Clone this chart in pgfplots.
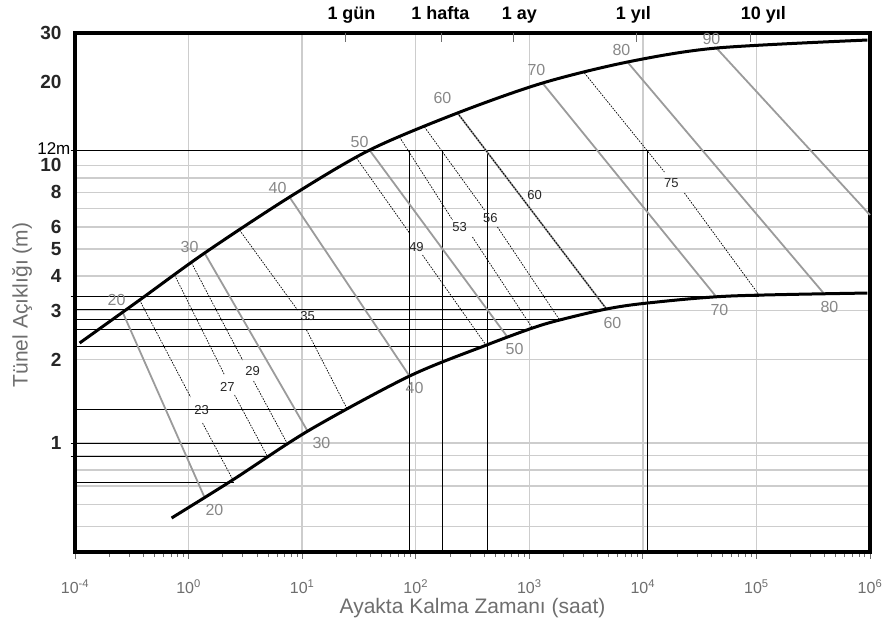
\documentclass[border=0pt]{standalone}
\usepackage{fontspec}
\setmainfont{Liberation Sans}
\usepackage{pgfplots}
\pgfplotsset{compat=1.18}

\definecolor{gridgray}{RGB}{205,205,205}
\definecolor{rmrgray}{RGB}{155,155,155}
\definecolor{numgray}{RGB}{135,135,135}
\definecolor{txtgray}{RGB}{110,110,110}
\newcommand{\fs}[1]{\fontsize{#1}{#1}\selectfont}

\begin{document}
\begin{tikzpicture}
\useasboundingbox (-75pt,-83pt) rectangle (815pt,552pt);
\begin{axis}[
  scale only axis, width=795pt, height=519pt,
  xmode=log, ymode=log,
  xmin=0.1, xmax=1e6, ymin=0.405, ymax=30,
  clip=false,
  axis line style={line width=3.5pt},
  tick align=outside,
  xtick pos=bottom, ytick pos=left,
  xtick={0.1,1,10,100,1000,10000,100000,1000000},
  xticklabels={10\textsuperscript{-4},10\textsuperscript{0},10\textsuperscript{1},10\textsuperscript{2},10\textsuperscript{3},10\textsuperscript{4},10\textsuperscript{5},10\textsuperscript{6}},
  minor xtick={0.2,0.3,0.4,0.5,0.6,0.7,0.8,0.9,
    2,3,4,5,6,7,8,9,20,30,40,50,60,70,80,90,
    200,300,400,500,600,700,800,900,
    2e3,3e3,4e3,5e3,6e3,7e3,8e3,9e3,
    2e4,3e4,4e4,5e4,6e4,7e4,8e4,9e4,
    2e5,3e5,4e5,5e5,6e5,7e5,8e5,9e5},
  xtick style={txtgray, line width=0.8pt},
  major tick length=7pt, minor tick length=5pt,
  xticklabel style={font=\fs{16}, text=txtgray, yshift=-17pt},
  ytick={0.5,0.6,0.7,0.8,0.9,1,2,3,4,5,6,7,8,9,10},
  yticklabels={,,,,,1,2,3,4,5,6,,8,,10},
  extra y ticks={20,30}, extra y tick labels={20,30},
  extra y tick style={grid=none},
  ytick style={draw=none}, yminorticks=false,
  yticklabel style={font=\fs{19}\bfseries, text=black!85, xshift=-3pt},
  xmajorgrids, ymajorgrids,
  major grid style={gridgray, line width=1.5pt},
  rmr/.style={rmrgray, line width=1.8pt},
  dsh/.style={black, line width=0.7pt, dash pattern=on 1.6pt off 1.2pt},
  thn/.style={black, line width=0.9pt},
  xlabel={Ayakta Kalma Zamanı (saat)},
  xlabel style={font=\fs{21}, text=txtgray, at={(axis description cs:0.5,0)}, anchor=center, yshift=-56pt},
  ylabel={Tünel Açıklığı (m)},
  ylabel style={font=\fs{21}, text=txtgray, at={(axis description cs:0,0.476)}, anchor=center, yshift=53pt},
]

% span / time reference lines
\addplot[thn] coordinates {(0.0915,11.36) (1e6,11.36)};
\addplot[thn] coordinates {(0.0915,3.36) (106300,3.36)};
\addplot[thn] coordinates {(0.1,3.04) (4782,3.04)};
\addplot[thn] coordinates {(0.1,2.78) (1845,2.78)};
\addplot[thn] coordinates {(0.1,2.57) (1067,2.57)};
\addplot[thn] coordinates {(0.1,2.22) (420,2.22)};
\addplot[thn] coordinates {(0.1,1.32) (25.09,1.32)};
\addplot[thn] coordinates {(0.0915,1.0) (7.437,1.0)};
\addplot[thn] coordinates {(0.0915,0.898) (4.961,0.898)};
\addplot[thn] coordinates {(0.1,0.72) (2.489,0.72)};
\addplot[thn] coordinates {(88.2,11.36) (88.2,0.405)};
\addplot[thn] coordinates {(172.2,11.36) (172.2,0.405)};
\addplot[thn] coordinates {(428.5,11.36) (428.5,0.405)};
\addplot[thn] coordinates {(10970,11.36) (10970,0.405)};

% RMR lines
\addplot[rmr] coordinates {(0.2624,2.964) (1.383,0.637)};
\addplot[rmr] coordinates {(1.383,4.835) (11.15,1.105)};
\addplot[rmr] coordinates {(7.745,7.693) (88.2,1.743)};
\addplot[rmr] coordinates {(39.21,11.36) (642.7,2.409)};
\addplot[rmr] coordinates {(233.3,15.45) (4782,3.04)};
\addplot[rmr] coordinates {(1307,19.81) (44450,3.357)};
\addplot[rmr] coordinates {(7318,23.58) (396800,3.44)};
\addplot[rmr] coordinates {(44450,26.48) (1e6,6.63)};

% interpolated RMR values (dashed)
\addplot[dsh] coordinates {(0.3704,3.274) (1.041,1.465)};
\addplot[dsh] coordinates {(1.328,1.180) (2.489,0.73)};
\addplot[dsh] coordinates {(0.7528,4.029) (2.074,1.758)};
\addplot[dsh] coordinates {(2.541,1.489) (4.961,0.893)};
\addplot[dsh] coordinates {(1.063,4.451) (2.988,1.991)};
\addplot[dsh] coordinates {(3.735,1.673) (7.437,0.992)};
\addplot[dsh] coordinates {(2.811,5.85) (9.11,3.014)};
\addplot[dsh] coordinates {(10.93,2.553) (25.09,1.32)};
\addplot[dsh] coordinates {(30.12,10.63) (88.2,5.707)};
\addplot[dsh] coordinates {(114.8,4.755) (420,2.24)};
\addplot[dsh] coordinates {(72.0,12.66) (210.9,6.36)};
\addplot[dsh] coordinates {(316.2,5.52) (1067,2.59)};
\addplot[dsh] coordinates {(119.5,13.75) (403.2,6.91)};
\addplot[dsh] coordinates {(524.8,6.0) (1845,2.78)};
\addplot[dsh, line width=0.9pt] coordinates {(233.3,15.45) (4782,3.04)};
\addplot[dsh] coordinates {(3061,21.52) (15490,9.468)};
\addplot[dsh] coordinates {(23240,7.953) (106300,3.40)};

% boundary curves
\addplot[black, line width=3pt, smooth] coordinates {(0.1098,2.292) (0.3704,3.274) (1.383,4.835) (7.745,7.693) (39.21,11.36) (233.3,15.45) (1307,19.81) (7318,23.58) (44450,26.48) (948000,28.30)};
\addplot[black, line width=3pt, smooth] coordinates {(0.7086,0.5369) (2.440,0.7357) (11.62,1.114) (88.2,1.743) (420,2.254) (1067,2.596) (1845,2.774) (4782,3.04) (10970,3.194) (57810,3.384) (948000,3.47)};

% RMR labels
\begin{scope}[every node/.style={font=\fs{16}, text=numgray, inner sep=0pt}]
\node at (axis cs:0.232,3.27) {20};
\node at (axis cs:1.69,0.574) {20};
\node at (axis cs:1.02,5.08) {30};
\node at (axis cs:14.8,1.0) {30};
\node at (axis cs:6.07,8.29) {40};
\node at (axis cs:97.6,1.58) {40};
\node at (axis cs:32.0,12.14) {50};
\node at (axis cs:741,2.18) {50};
\node at (axis cs:172,17.5) {60};
\node at (axis cs:5400,2.71) {60};
\node at (axis cs:1157,22.07) {70};
\node at (axis cs:47200,3.01) {70};
\node at (axis cs:6480,26.0) {80};
\node at (axis cs:439000,3.09) {80};
\node at (axis cs:40200,28.5) {90};
\end{scope}
\begin{scope}[every node/.style={font=\fs{13}, text=black!85, inner sep=0pt}]
\node at (axis cs:1.30,1.315) {23};
\node at (axis cs:2.20,1.59) {27};
\node at (axis cs:3.66,1.817) {29};
\node at (axis cs:11.15,2.856) {35};
\node at (axis cs:101.6,5.08) {49};
\node at (axis cs:243,6.0) {53};
\node at (axis cs:455,6.47) {56};
\node at (axis cs:1112,7.82) {60};
\node at (axis cs:17860,8.64) {75};
\end{scope}

\node[font=\fs{17}, anchor=east, inner sep=0pt] at (axis cs:0.0915,11.5) {12m};

% time marks on the top edge
\pgfplotsinvokeforeach{24,168,720,8760,87600}{
  \draw[txtgray, line width=0.8pt] (axis cs:#1,30) -- ++(0pt,-9pt);
}
\begin{scope}[every node/.style={font=\fs{18}\bfseries, anchor=base, yshift=13pt, inner sep=0pt}]
\node at (axis cs:27.2,30) {1 gün};
\node at (axis cs:165,30) {1 hafta};
\node at (axis cs:820,30) {1 ay};
\node at (axis cs:8260,30) {1 yıl};
\node at (axis cs:115000,30) {10 yıl};
\end{scope}
\end{axis}
\end{tikzpicture}
\end{document}
